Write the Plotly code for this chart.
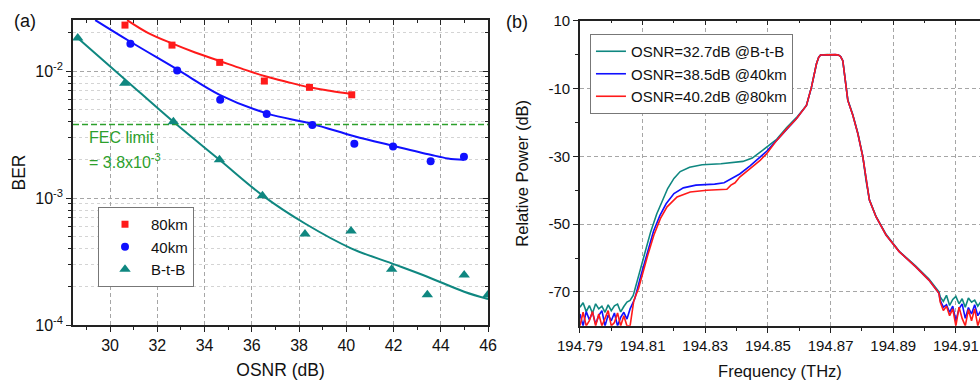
import plotly.graph_objects as go

# ---------------- data: panel (a) ----------------
osnr_80 = [30.63, 32.62, 34.64, 36.53, 38.44, 40.23]
ber_80 = [0.0230, 0.0160, 0.0117, 0.00834, 0.00744, 0.0065]
osnr_40 = [30.86, 32.84, 34.66, 36.63, 38.56, 40.34, 41.98, 43.57, 44.98]
ber_40 = [0.0164, 0.0101, 0.00594, 0.00458, 0.00376, 0.00268, 0.00254, 0.00195, 0.00211]
osnr_btb = [28.63, 30.62, 32.68, 34.63, 36.45, 38.25, 40.20, 41.92, 43.43, 44.99, 45.99]
ber_btb = [0.0182, 0.0080, 0.00398, 0.0020, 0.00104, 0.00052, 0.00055, 0.000275, 0.000173, 0.000248, 0.000172]

fit80_x = [30.72, 31.6, 32.62, 33.6, 34.64, 35.6, 36.53, 37.5, 38.44, 39.3, 40.23]
fit80_y = [0.0252, 0.0200, 0.0165, 0.0140, 0.0120, 0.0104, 0.00914, 0.0082, 0.00745, 0.0070, 0.00659]
fit40_x = [29.37, 30.86, 32.84, 34.66, 36.63, 38.56, 40.34, 41.98, 43.57, 44.3, 44.98]
fit40_y = [0.0252, 0.0170, 0.0103, 0.00647, 0.00464, 0.00383, 0.00307, 0.00258, 0.00219, 0.00205, 0.0020]
fitbtb_x = [28.63, 30.62, 32.68, 34.63, 36.45, 38.25, 40.2, 41.92, 43.43, 44.99, 46.0]
fitbtb_y = [0.0182, 0.00863, 0.00398, 0.0020, 0.00105, 0.00063, 0.000402,
            0.000306, 0.00024, 0.000183, 0.000160]
fec_limit = 3.8e-3
osnr_range = [28.43, 46.0]

# ---------------- data: panel (b) ----------------
noise_f_left = [194.790, 194.791, 194.792, 194.793, 194.794, 194.795, 194.796, 194.797, 194.798,
                194.799, 194.800, 194.801, 194.802, 194.803, 194.804, 194.805, 194.806]
noise_f_right = [194.905, 194.906, 194.907, 194.908, 194.909, 194.910, 194.911, 194.912, 194.913,
                 194.914, 194.915, 194.916, 194.917, 194.918]

btb_noise_l = [-74.5, -73.2, -75.8, -74.0, -76.3, -73.5, -75.0, -74.2, -76.0, -73.8, -75.5, -74.1, -73.6, -75.9, -74.3, -73.0, -72.5]
km40_noise_l = [-76.5, -80.0, -75.8, -78.2, -76.0, -79.5, -77.0, -75.5, -80.0, -76.8, -78.5, -76.2, -80.0, -77.5, -76.0, -78.0, -75.0]
km80_noise_l = [-80.0, -76.0, -80.0, -78.5, -75.8, -80.0, -76.5, -80.0, -77.8, -75.5, -80.0, -79.0, -76.2, -80.0, -77.0, -80.0, -80.0]

btb_noise_r = [-71.5, -72.8, -71.0, -74.0, -72.2, -71.3, -73.5, -72.0, -74.5, -71.8, -73.0, -72.4, -74.2, -72.8]
km40_noise_r = [-72.5, -74.5, -73.8, -76.0, -74.2, -78.5, -75.0, -73.5, -77.8, -74.6, -76.5, -73.8, -77.0, -75.5]
km80_noise_r = [-73.0, -75.5, -74.2, -77.0, -75.0, -80.0, -74.5, -77.8, -80.0, -75.2, -78.5, -75.0, -80.0, -77.0]

btb_rise_f = [194.807, 194.8085, 194.8105, 194.8125, 194.8145, 194.8165, 194.818, 194.820, 194.822,
              194.825, 194.829, 194.835, 194.839, 194.842, 194.845, 194.848, 194.850]
btb_rise_p = [-71.0, -66.0, -59.0, -52.5, -47.0, -42.5, -39.5, -36.5, -34.5,
              -33.2, -32.5, -32.2, -31.9, -31.5, -30.5, -28.5, -27.0]
km40_rise_f = [194.8075, 194.8095, 194.8115, 194.8135, 194.8155, 194.8175, 194.820, 194.823, 194.827,
               194.833, 194.836, 194.8375, 194.839, 194.841, 194.8443, 194.8475, 194.8496]
km40_rise_p = [-72.0, -65.0, -58.5, -52.0, -47.5, -44.0, -41.0, -39.3, -38.5,
               -38.2, -37.8, -37.0, -36.3, -35.2, -32.8, -30.3, -28.5]
km80_rise_f = [194.8072, 194.8087, 194.8094, 194.8115, 194.8136, 194.8157, 194.8178, 194.821, 194.8252,
               194.8305, 194.8369, 194.8382, 194.8395, 194.841, 194.8443, 194.8475, 194.8496]
km80_rise_p = [-72.5, -69.0, -66.5, -59.6, -53.2, -48.3, -44.9, -42.0, -40.5,
               -40.0, -39.7, -38.5, -37.8, -36.1, -33.6, -31.2, -29.2]

peak_f = [194.8528, 194.856, 194.8591, 194.8623, 194.8639, 194.8655, 194.8662, 194.8668, 194.8690,
          194.8715, 194.8725, 194.8732, 194.8739, 194.8755, 194.8771, 194.8787, 194.8803, 194.8813,
          194.8824, 194.8845, 194.8877, 194.8919, 194.8972, 194.9014, 194.9046]
peak_p = [-25.3, -21.9, -18.9, -15.0, -9.6, -2.7, -0.8, -0.1, 0.0,
          0.0, -0.1, -0.6, -1.8, -13.5, -17.9, -23.3, -30.2, -37.0,
          -42.9, -47.8, -53.2, -58.1, -62.6, -66.5, -70.4]
btb_peak_p = [-25.0, -21.5, -18.6, -15.0, -9.6, -2.7, -0.8, -0.1, 0.0,
              0.0, -0.1, -0.6, -1.8, -13.3, -17.7, -23.1, -30.0, -37.0,
              -42.8, -47.7, -53.0, -58.0, -62.4, -66.2, -70.0]

freq_range = [194.79, 194.9177]
power_range = [-80, 10]

# ticks
ber_major = [1e-4, 1e-3, 1e-2]
ber_major_text = ["10<sup>-4</sup>", "10<sup>-3</sup>", "10<sup>-2</sup>"]
ber_minor = [2e-4, 3e-4, 4e-4, 5e-4, 6e-4, 7e-4, 8e-4, 9e-4,
             2e-3, 3e-3, 4e-3, 5e-3, 6e-3, 7e-3, 8e-3, 9e-3, 2e-2]
osnr_minor = [29, 31, 33, 35, 37, 39, 41, 43, 45]
freq_minor = [194.80, 194.82, 194.84, 194.86, 194.88, 194.90]
pow_major = [10, -10, -30, -50, -70]
pow_major_text = ["10", "-10", "-30", "-50", "-70"]
pow_minor = [0, -20, -40, -60]

# ---------------- styling ----------------
FONT = "Liberation Sans, Arial, sans-serif"
RED = "#ff1a1a"
BLUE = "#1010ff"
TEAL = "#0f8780"
GREEN = "#2ca02c"
GRID = "#a6a6a6"
AX = "#222222"
TXT = "#111111"

fig = go.Figure()

fig.add_trace(go.Scatter(x=fit80_x, y=fit80_y, mode="lines", line=dict(color=RED, width=2, shape="spline"),
                         showlegend=False, xaxis="x", yaxis="y", hoverinfo="skip"))
fig.add_trace(go.Scatter(x=fit40_x, y=fit40_y, mode="lines", line=dict(color=BLUE, width=2, shape="spline"),
                         showlegend=False, xaxis="x", yaxis="y", hoverinfo="skip"))
fig.add_trace(go.Scatter(x=fitbtb_x, y=fitbtb_y, mode="lines", line=dict(color=TEAL, width=2, shape="spline"),
                         showlegend=False, xaxis="x", yaxis="y", hoverinfo="skip"))
fig.add_trace(go.Scatter(x=osnr_range, y=[fec_limit, fec_limit], mode="lines",
                         line=dict(color=GREEN, width=1.5, dash="6px,3px"),
                         showlegend=False, xaxis="x", yaxis="y", hoverinfo="skip"))
fig.add_trace(go.Scatter(x=osnr_80, y=ber_80, mode="markers", name="80km",
                         marker=dict(symbol="square", size=7, color=RED), xaxis="x", yaxis="y", legend="legend"))
fig.add_trace(go.Scatter(x=osnr_40, y=ber_40, mode="markers", name="40km",
                         marker=dict(symbol="circle", size=8, color=BLUE), xaxis="x", yaxis="y", legend="legend"))
fig.add_trace(go.Scatter(x=osnr_btb, y=ber_btb, mode="markers", name="B-t-B",
                         marker=dict(symbol="triangle-up", size=10, color=TEAL), xaxis="x", yaxis="y", legend="legend"))

fig.add_trace(go.Scatter(x=noise_f_left + btb_rise_f + peak_f + noise_f_right,
                         y=btb_noise_l + btb_rise_p + btb_peak_p + btb_noise_r,
                         mode="lines", name="OSNR=32.7dB @B-t-B", line=dict(color=TEAL, width=1.6),
                         xaxis="x2", yaxis="y2", legend="legend2"))
fig.add_trace(go.Scatter(x=noise_f_left + km40_rise_f + peak_f + noise_f_right,
                         y=km40_noise_l + km40_rise_p + peak_p + km40_noise_r,
                         mode="lines", name="OSNR=38.5dB @40km", line=dict(color=BLUE, width=1.6),
                         xaxis="x2", yaxis="y2", legend="legend2"))
fig.add_trace(go.Scatter(x=noise_f_left + km80_rise_f + peak_f + noise_f_right,
                         y=km80_noise_l + km80_rise_p + peak_p + km80_noise_r,
                         mode="lines", name="OSNR=40.2dB @80km", line=dict(color=RED, width=1.6),
                         xaxis="x2", yaxis="y2", legend="legend2"))

fig.add_trace(go.Scatter(x=[], y=[], xaxis="x3", yaxis="y3", showlegend=False))
fig.add_trace(go.Scatter(x=[], y=[], xaxis="x4", yaxis="y2", showlegend=False))

tickA = dict(family=FONT, size=16, color=TXT)
tickB = dict(family=FONT, size=15, color=TXT)
ydomA = [0.1447, 0.9474]
ydomB = [0.1425, 0.9455]
common = dict(automargin=False, zeroline=False, tickcolor=AX, linecolor=AX, linewidth=1.5, showline=True)


def ttl(text, size, standoff):
    return dict(text=text, font=dict(family=FONT, size=size, color=TXT), standoff=standoff)


fig.update_layout(
    template="plotly",
    width=980, height=380, autosize=False,
    margin=dict(l=0, r=0, t=0, b=0, pad=0),
    paper_bgcolor="white", plot_bgcolor="white",
    font=dict(family=FONT, size=15, color=TXT),
    xaxis=dict(domain=[0.0745, 0.498], range=osnr_range, anchor="y", title=ttl("OSNR (dB)", 17.5, 14),
               tickmode="linear", tick0=30, dtick=2, ticks="outside", ticklen=5, tickwidth=1.2,
               tickfont=tickA, showgrid=True, gridcolor=GRID, griddash="4px,3px", gridwidth=1,
               minor=dict(tickvals=osnr_minor, ticks="outside", ticklen=3, tickcolor=AX, showgrid=False),
               **common),
    yaxis=dict(domain=ydomA, type="log", range=[-4, -1.598], anchor="x", title=ttl("BER", 17.5, 5),
               tickmode="array", tickvals=ber_major, ticktext=ber_major_text,
               ticks="outside", ticklen=5, tickwidth=1.2, tickfont=tickA,
               showgrid=True, gridcolor=GRID, griddash="4px,3px", gridwidth=1,
               minor=dict(tickvals=ber_minor, ticks="outside", ticklen=3, tickcolor=AX,
                          showgrid=True, gridcolor="#d4d4d4", griddash="dot", gridwidth=1),
               **common),
    xaxis3=dict(overlaying="x", side="top", anchor="y", range=osnr_range,
                tickmode="linear", tick0=30, dtick=2, ticks="inside", ticklen=5,
                showticklabels=False, showgrid=False,
                minor=dict(tickvals=osnr_minor, ticks="inside", ticklen=3, tickcolor=AX, showgrid=False),
                **common),
    yaxis3=dict(overlaying="y", side="right", anchor="x", type="log", range=[-4, -1.598],
                tickmode="array", tickvals=ber_major, ticks="inside", ticklen=5,
                showticklabels=False, showgrid=False,
                minor=dict(tickvals=ber_minor, ticks="inside", ticklen=3, tickcolor=AX, showgrid=False),
                **common),
    xaxis2=dict(domain=[0.5918, 1.0], range=freq_range, anchor="y2", title=ttl("Frequency (THz)", 16.5, 14),
                tickmode="linear", tick0=194.79, dtick=0.02, tickformat=".2f",
                ticks="outside", ticklen=5, tickwidth=1.2, tickfont=tickB,
                showgrid=True, gridcolor=GRID, griddash="4px,3px", gridwidth=1,
                minor=dict(tickvals=freq_minor, ticks="outside", ticklen=3, tickcolor=AX, showgrid=False),
                **common),
    yaxis2=dict(domain=ydomB, range=power_range, anchor="x2", title=ttl("Relative Power (dB)", 16.5, 16),
                tickmode="array", tickvals=pow_major, ticktext=pow_major_text,
                ticks="outside", ticklen=5, tickwidth=1.2, tickfont=tickB,
                showgrid=True, gridcolor=GRID, griddash="4px,3px", gridwidth=1,
                minor=dict(tickvals=pow_minor, ticks="outside", ticklen=3, tickcolor=AX, showgrid=False),
                **common),
    xaxis4=dict(overlaying="x2", side="top", anchor="y2", range=freq_range,
                tickmode="linear", tick0=194.79, dtick=0.02, ticks="inside", ticklen=5,
                showticklabels=False, showgrid=False,
                minor=dict(tickvals=freq_minor, ticks="inside", ticklen=3, tickcolor=AX, showgrid=False),
                **common),
    legend=dict(x=0.1, y=0.4553, xanchor="left", yanchor="top", bgcolor="white",
                bordercolor="#777", borderwidth=1, font=dict(family=FONT, size=15, color=TXT),
                itemwidth=42, tracegroupgap=0),
    legend2=dict(x=0.602, y=0.9105, xanchor="left", yanchor="top", bgcolor="white",
                 bordercolor="#777", borderwidth=1, font=dict(family=FONT, size=15, color=TXT),
                 itemwidth=30, tracegroupgap=0),
)


def label(text, px, py, size, color=TXT, anchor="left", angle=0):
    return dict(text=text, x=px / 980, y=1 - py / 380, xref="paper", yref="paper",
                xanchor=anchor, yanchor="middle", textangle=angle, showarrow=False,
                font=dict(family=FONT, size=size, color=color))


fig.update_layout(annotations=[
    label("(a)", 12, 21, 18),
    label("(b)", 504, 22, 18),
    label("FEC limit", 87, 137, 16, color=GREEN),
    label("= 3.8x10<sup>-3</sup>", 87, 161, 16, color=GREEN),
])

fig.write_html("out.html")
